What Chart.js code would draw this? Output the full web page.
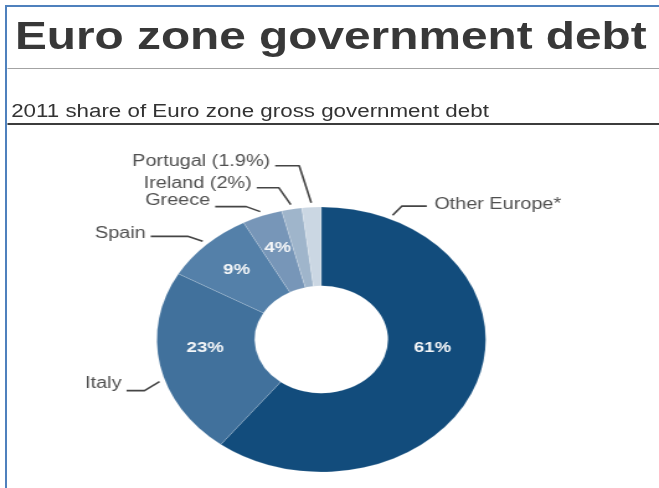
<!DOCTYPE html>
<html>
<head>
<meta charset="utf-8">
<script src="https://cdn.jsdelivr.net/npm/chart.js@4/dist/chart.umd.min.js"></script>
<style>
  html, body { margin: 0; padding: 0; background: #fff; }
  body { width: 659px; height: 488px; overflow: hidden; position: relative; font-family: "Liberation Sans", Arial, sans-serif; }
  #frame { position: absolute; left: 5px; top: 5px; width: 660px; height: 490px; border-top: 2px solid #4f81bd; border-left: 2px solid #4f81bd; box-sizing: border-box; }
  /* the whole graphic is laid out at 531px wide and widened to the page */
  #stage { position: absolute; left: 0; top: 0; width: 531px; height: 488px; transform: scaleX(1.241); transform-origin: 0 0; }
  #stage canvas { position: absolute; left: 0; top: 0; }
  .title { position: absolute; left: 12px; top: 17.4px; font-weight: bold; font-size: 38.5px; line-height: 38.5px; color: #383838; white-space: nowrap; }
  .subtitle { position: absolute; left: 9px; top: 101.5px; font-size: 18px; line-height: 18px; color: #333; white-space: nowrap; }
  .rule1 { position: absolute; left: 5.6px; top: 67.5px; width: 530px; height: 1.5px; background: #a3a3a3; }
  .rule2 { position: absolute; left: 5.6px; top: 123px; width: 530px; height: 2px; background: #3c3c3c; }
</style>
</head>
<body>
<div id="frame"></div>
<div id="stage">
  <div class="title">Euro zone government debt</div>
  <div class="rule1"></div>
  <div class="subtitle">2011 share of Euro zone gross government debt</div>
  <div class="rule2"></div>
  <canvas id="c" width="531" height="488" style="width:531px;height:488px"></canvas>
</div>
<script>
// 2011 share of euro zone gross government debt, in percent
const countries = ['Other Europe*', 'Italy', 'Spain', 'Greece', 'Ireland', 'Portugal'];
const shares = [61, 23, 9, 4, 2, 1.9];
// which shares are printed inside the ring, and which inside the outer label
const showInside = [true, true, true, true, false, false];
const showInName = [false, false, false, false, true, true];

const sliceColors = ['#124c7c', '#41719c', '#5480a9', '#7796b8', '#9fb5cb', '#cbd7e3'];

// leader line layout (canvas units): point along slice, elbow offset, horizontal run, baseline shift
const leaderAt = [0.114, 0.42, 0.5, 0.5, 0.5, 0.5];
const leaderElbow = [[7.3, -9], [-12.1, 9], [-12.1, -5], [-11.3, -5], [-9.7, -17], [-9.7, -37]];
const leaderRun = [20.2, -14.5, -29.8, -25, -17.7, -19.4];
const textShift = [3, -3, 2, -2, 0, 0];
// inside value labels: point along slice and position across the ring
const insideAt = [0.437, 0.578, 0.5, 0.5];
const insideDepth = [0.46, 0.51, 0.56, 0.56];

const FONT = '"Liberation Sans", Arial, sans-serif';

const labelPlugin = {
  id: 'sliceLabels',
  afterDatasetsDraw(chart) {
    const ctx = chart.ctx;
    const meta = chart.getDatasetMeta(0);
    ctx.save();
    meta.data.forEach((arc, i) => {
      const p = arc.getProps(['x', 'y', 'startAngle', 'endAngle', 'innerRadius', 'outerRadius'], true);
      const span = p.endAngle - p.startAngle;

      // value inside the ring
      if (showInside[i]) {
        const a = p.startAngle + insideAt[i] * span;
        const r = p.innerRadius + insideDepth[i] * (p.outerRadius - p.innerRadius);
        ctx.fillStyle = '#f4f6f8';
        ctx.font = 'bold 15px ' + FONT;
        ctx.textAlign = 'center';
        ctx.textBaseline = 'middle';
        ctx.fillText(shares[i] + '%', p.x + Math.cos(a) * r, p.y + Math.sin(a) * r);
      }

      // leader line and name outside
      const a = p.startAngle + leaderAt[i] * span;
      const r0 = p.outerRadius + 4.5;
      const ax = p.x + Math.cos(a) * r0, ay = p.y + Math.sin(a) * r0;
      const ex = ax + leaderElbow[i][0], ey = ay + leaderElbow[i][1];
      const hx = ex + leaderRun[i];
      ctx.strokeStyle = '#454545';
      ctx.lineWidth = 1.6;
      ctx.lineJoin = 'round';
      ctx.beginPath();
      ctx.moveTo(ax, ay);
      ctx.lineTo(ex, ey);
      ctx.lineTo(hx, ey);
      ctx.stroke();

      const name = showInName[i] ? countries[i] + ' (' + shares[i] + '%)' : countries[i];
      ctx.fillStyle = '#505050';
      ctx.font = '16px ' + FONT;
      ctx.textBaseline = 'alphabetic';
      if (leaderRun[i] < 0) {
        ctx.textAlign = 'right';
        ctx.fillText(name, hx - 4, ey + textShift[i]);
      } else {
        ctx.textAlign = 'left';
        ctx.fillText(name, hx + 6, ey + textShift[i]);
      }
    });
    ctx.restore();
  }
};

new Chart(document.getElementById('c'), {
  type: 'doughnut',
  data: {
    labels: countries,
    datasets: [{
      data: shares,
      backgroundColor: sliceColors,
      borderColor: 'rgba(255,255,255,0.15)',
      borderWidth: 1
    }]
  },
  options: {
    responsive: false,
    animation: false,
    events: [],
    cutout: '40.5%',
    rotation: 0,
    layout: { padding: { left: 125.9, right: 139.1, top: 206.5, bottom: 15.5 } },
    plugins: {
      legend: { display: false },
      tooltip: { enabled: false }
    }
  },
  plugins: [labelPlugin]
});
</script>
</body>
</html>
